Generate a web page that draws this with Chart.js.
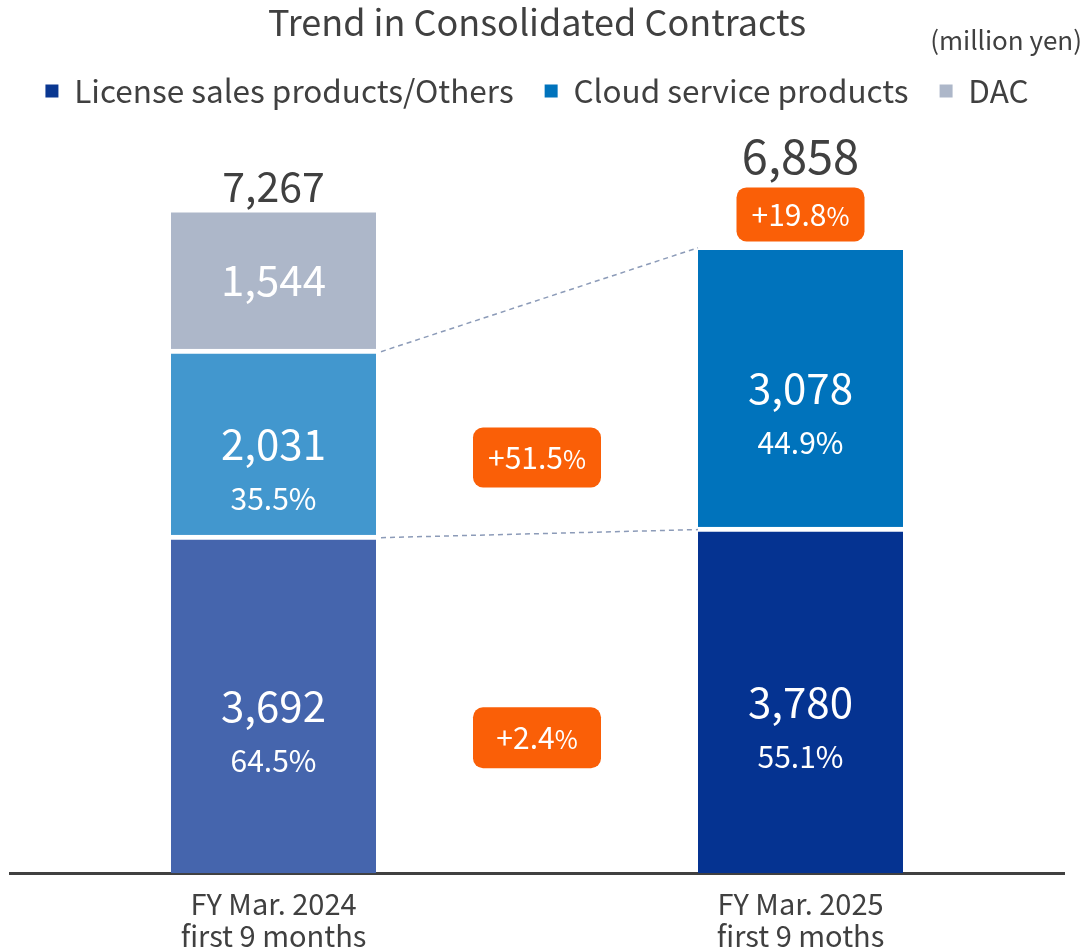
<!DOCTYPE html>
<html>
<head>
<meta charset="utf-8">
<script src="https://cdn.jsdelivr.net/npm/chart.js@4.4.1/dist/chart.umd.min.js"></script>
<style>
  html, body { margin: 0; padding: 0; background: #fff; }
  #wrap { width: 1086px; height: 952px; }
</style>
</head>
<body>
<div id="wrap"><canvas id="contracts"></canvas></div>
<script>
const FONT = "'Noto Sans CJK JP', 'Noto Sans', sans-serif";

const categories = [['FY Mar. 2024', 'first 9 months'], ['FY Mar. 2025', 'first 9 moths']];
const seriesNames = ['License sales products/Others', 'Cloud service products', 'DAC'];
const licenseValues = [3692, 3780];
const cloudValues = [2031, 3078];
const dacValues = [1544, null];
const licenseShares = ['64.5%', '55.1%'];
const cloudShares = ['35.5%', '44.9%'];
const totalLabels = ['7,267', '6,858'];
const growthLabels = ['+51.5', '+2.4', '+19.8'];

const legendColors = ['#0a3791', '#0073bc', '#adb7c9'];

// badges sit on the value axis, between or above the bars
const badgeSpots = [
  { x: 0.5, y: 4540, h: 60 },
  { x: 0.5, y: 1479, h: 61 },
  { x: 1, y: 7195, h: 54 }
];

const labelPlugin = {
  id: 'contractLabels',
  afterDatasetsDraw(chart) {
    const ctx = chart.ctx;
    const xs = chart.scales.x, ys = chart.scales.y;
    const lic = chart.getDatasetMeta(0).data;
    const cld = chart.getDatasetMeta(1).data;
    ctx.save();

    // dashed connectors between the two bars
    ctx.strokeStyle = '#8c9bb8';
    ctx.lineWidth = 1.5;
    ctx.setLineDash([5, 4]);
    [cld, lic].forEach(d => {
      ctx.beginPath();
      ctx.moveTo(d[0].x + d[0].width / 2 + 5, d[0].y + 2.5);
      ctx.lineTo(d[1].x - d[1].width / 2, d[1].y + 2.5);
      ctx.stroke();
    });
    ctx.setLineDash([]);

    // values and shares inside the segments
    ctx.textAlign = 'center';
    ctx.textBaseline = 'middle';
    ctx.fillStyle = '#fff';
    chart.data.datasets.forEach((ds, di) => {
      chart.getDatasetMeta(di).data.forEach((el, i) => {
        const v = ds.data[i];
        if (v == null) return;
        const mid = (el.y + 5 + el.base) / 2;
        ctx.font = '42px ' + FONT;
        ctx.fillText(v.toLocaleString('en-US'), el.x, mid - 1);
        if (ds.shares) {
          ctx.font = '30px ' + FONT;
          ctx.fillText(ds.shares[i], el.x, mid + 54);
        }
      });
    });

    // totals above the bars
    ctx.fillStyle = '#404040';
    const totalLift = [21, 89];
    const totalSize = [41, 47];
    totalLabels.forEach((t, i) => {
      const sum = licenseValues[i] + cloudValues[i] + (dacValues[i] || 0);
      ctx.font = totalSize[i] + 'px ' + FONT;
      ctx.fillText(t, xs.getPixelForValue(i), ys.getPixelForValue(sum) - totalLift[i]);
    });

    // orange growth badges
    growthLabels.forEach((t, i) => {
      const s = badgeSpots[i];
      const cx = xs.getPixelForValue(s.x);
      const cy = ys.getPixelForValue(s.y);
      const w = 128;
      ctx.fillStyle = '#fa5f07';
      ctx.beginPath();
      ctx.roundRect(cx - w / 2, cy - s.h / 2, w, s.h, 10);
      ctx.fill();
      ctx.fillStyle = '#fff';
      ctx.font = '30px ' + FONT;
      const w1 = ctx.measureText(t).width;
      ctx.font = '25px ' + FONT;
      const w2 = ctx.measureText('%').width;
      const tx = cx - (w1 + w2) / 2;
      ctx.textAlign = 'left';
      ctx.font = '30px ' + FONT;
      ctx.fillText(t, tx, cy);
      ctx.font = '25px ' + FONT;
      ctx.fillText('%', tx + w1, cy + 2);
      ctx.textAlign = 'center';
    });

    // unit note
    ctx.fillStyle = '#404040';
    ctx.textAlign = 'right';
    ctx.font = '26px ' + FONT;
    ctx.fillText('(million yen)', 1082, 40);
    ctx.restore();
  }
};

const ctx = document.getElementById('contracts');
const myChart = new Chart(ctx, {
  type: 'bar',
  data: {
    labels: categories,
    datasets: [
      {
        label: seriesNames[0],
        data: licenseValues,
        shares: licenseShares,
        backgroundColor: ['#4565ad', '#053391']
      },
      {
        label: seriesNames[1],
        data: cloudValues,
        shares: cloudShares,
        backgroundColor: ['#4297ce', '#0073bc']
      },
      {
        label: seriesNames[2],
        data: dacValues,
        backgroundColor: ['#adb7c9', '#adb7c9']
      }
    ]
  },
  options: {
    responsive: true,
    maintainAspectRatio: false,
    animation: false,
    layout: { padding: { left: 10, right: 22, top: 0, bottom: -15 } },
    datasets: {
      bar: {
        barThickness: 205,
        borderColor: '#fff',
        borderWidth: { top: 5, left: 0, right: 0, bottom: 0 }
      }
    },
    scales: {
      x: {
        stacked: true,
        grid: { display: false, drawTicks: false },
        border: { display: true, color: '#404040', width: 3 },
        ticks: { color: '#404040', padding: 15, font: { family: FONT, size: 29, lineHeight: 1.1 } }
      },
      y: {
        stacked: true,
        display: false,
        min: 0,
        max: 8262
      }
    },
    plugins: {
      title: {
        display: true,
        text: 'Trend in Consolidated Contracts',
        color: '#404040',
        font: { family: FONT, size: 36, weight: 'normal' },
        padding: { top: 1, bottom: 0 }
      },
      legend: {
        display: true,
        labels: {
          color: '#404040',
          boxWidth: 13,
          boxHeight: 13,
          padding: 31,
          font: { family: FONT, size: 31.5 },
          generateLabels: () => seriesNames.map((t, i) => ({
            text: t,
            fillStyle: legendColors[i],
            strokeStyle: legendColors[i],
            lineWidth: 0,
            datasetIndex: i,
            fontColor: '#404040'
          }))
        }
      },
      tooltip: { enabled: false }
    }
  },
  plugins: [labelPlugin]
});
</script>
</body>
</html>
